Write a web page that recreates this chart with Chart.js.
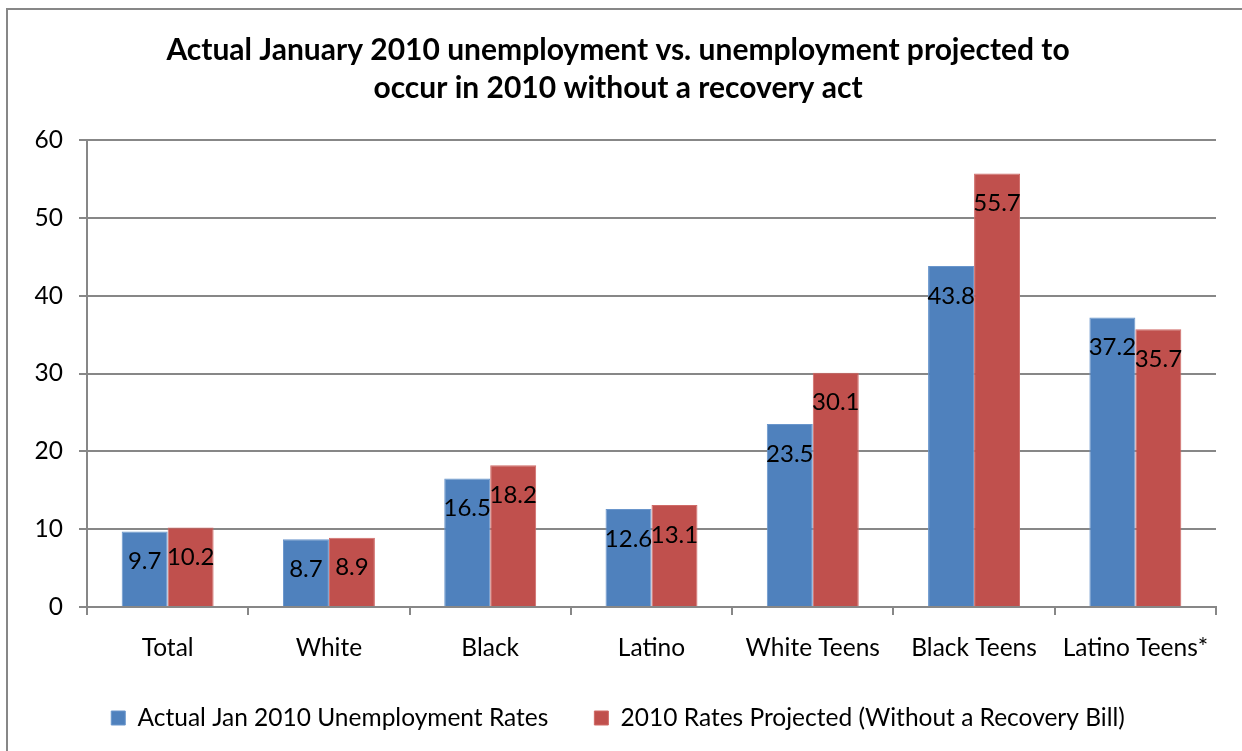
<!DOCTYPE html>
<html>
<head>
<meta charset="utf-8">
<script src="https://cdn.jsdelivr.net/npm/chart.js@4.4.1/dist/chart.umd.min.js"></script>
<style>
  html, body { margin: 0; padding: 0; background: #fff; }
  #wrap { width: 1242px; height: 751px; position: relative; }
</style>
</head>
<body>
<div id="wrap"><canvas id="unempChart" width="1242" height="751"></canvas></div>
<script>
const groups = ["Total", "White", "Black", "Latino", "White Teens", "Black Teens", "Latino Teens*"];
const actualJan2010 = [9.7, 8.7, 16.5, 12.6, 23.5, 43.8, 37.2];
const projectedNoBill = [10.2, 8.9, 18.2, 13.1, 30.1, 55.7, 35.7];
const yTicks = [0, 10, 20, 30, 40, 50, 60];

const FONT = "Lato";
const AXIS_GRAY = "#878787";

// frame around the whole chart (only top/left edges fall inside the canvas)
const chartFrame = {
  id: "chartFrame",
  beforeDraw(chart) {
    const ctx = chart.ctx;
    ctx.save();
    ctx.fillStyle = "#fff";
    ctx.fillRect(0, 0, chart.width, chart.height);
    ctx.strokeStyle = AXIS_GRAY;
    ctx.lineWidth = 2;
    ctx.strokeRect(7, 9, chart.width + 20, chart.height + 20);
    ctx.restore();
  }
};

// value labels sitting just inside the top of each bar
const barValues = {
  id: "barValues",
  afterDatasetsDraw(chart) {
    const ctx = chart.ctx;
    ctx.save();
    ctx.font = "24px " + FONT;
    ctx.fillStyle = "#000";
    ctx.textAlign = "center";
    ctx.textBaseline = "middle";
    chart.data.datasets.forEach((ds, i) => {
      chart.getDatasetMeta(i).data.forEach((bar, j) => {
        ctx.fillText(ds.data[j].toFixed(1), bar.x, bar.y + 30);
      });
    });
    ctx.restore();
  }
};

new Chart("unempChart", {
  type: "bar",
  data: {
    labels: groups,
    datasets: [
      {
        label: "Actual Jan 2010 Unemployment Rates",
        data: actualJan2010,
        backgroundColor: "#4F81BD",
        borderColor: "#6A96CC",
        borderWidth: 1,
      },
      {
        label: "2010 Rates Projected (Without a Recovery Bill)",
        data: projectedNoBill,
        backgroundColor: "#C0504D",
        borderColor: "#D06A67",
        borderWidth: 1,
      },
    ],
  },
  options: {
    responsive: false,
    animation: false,
    layout: { padding: { left: 20, right: 26, top: 0, bottom: 10.75 } },
    datasets: {
      bar: { categoryPercentage: 0.57, barPercentage: 1.0 },
    },
    plugins: {
      title: {
        display: true,
        text: [
          "Actual January 2010 unemployment vs. unemployment projected to",
          "occur in 2010 without a recovery act",
        ],
        color: "#000",
        font: { family: FONT, size: 30, weight: "bold", lineHeight: 1.267 },
        padding: { top: 31, bottom: 33 },
      },
      legend: {
        display: true,
        position: "bottom",
        labels: {
          color: "#000",
          font: { family: FONT, size: 24.5 },
          boxWidth: 14,
          boxHeight: 14,
          padding: 46,
        },
      },
      tooltip: { enabled: false },
    },
    scales: {
      x: {
        grid: {
          drawOnChartArea: false,
          drawTicks: true,
          tickLength: 8,
          color: AXIS_GRAY,
          lineWidth: 2,
        },
        border: { color: AXIS_GRAY, width: 2 },
        ticks: { color: "#000", font: { family: FONT, size: 24.5 }, padding: 18, maxRotation: 0 },
        afterFit(scale) { scale.height = 52.75; },
      },
      y: {
        min: 0,
        max: 60,
        afterBuildTicks(scale) { scale.ticks = yTicks.map(v => ({ value: v })); },
        grid: { color: AXIS_GRAY, lineWidth: 2, tickLength: 8 },
        border: { color: AXIS_GRAY, width: 2 },
        ticks: { color: "#000", font: { family: FONT, size: 24.5 }, padding: 16 },
        afterFit(scale) { scale.width = 67; },
      },
    },
  },
  plugins: [chartFrame, barValues],
});
</script>
</body>
</html>
